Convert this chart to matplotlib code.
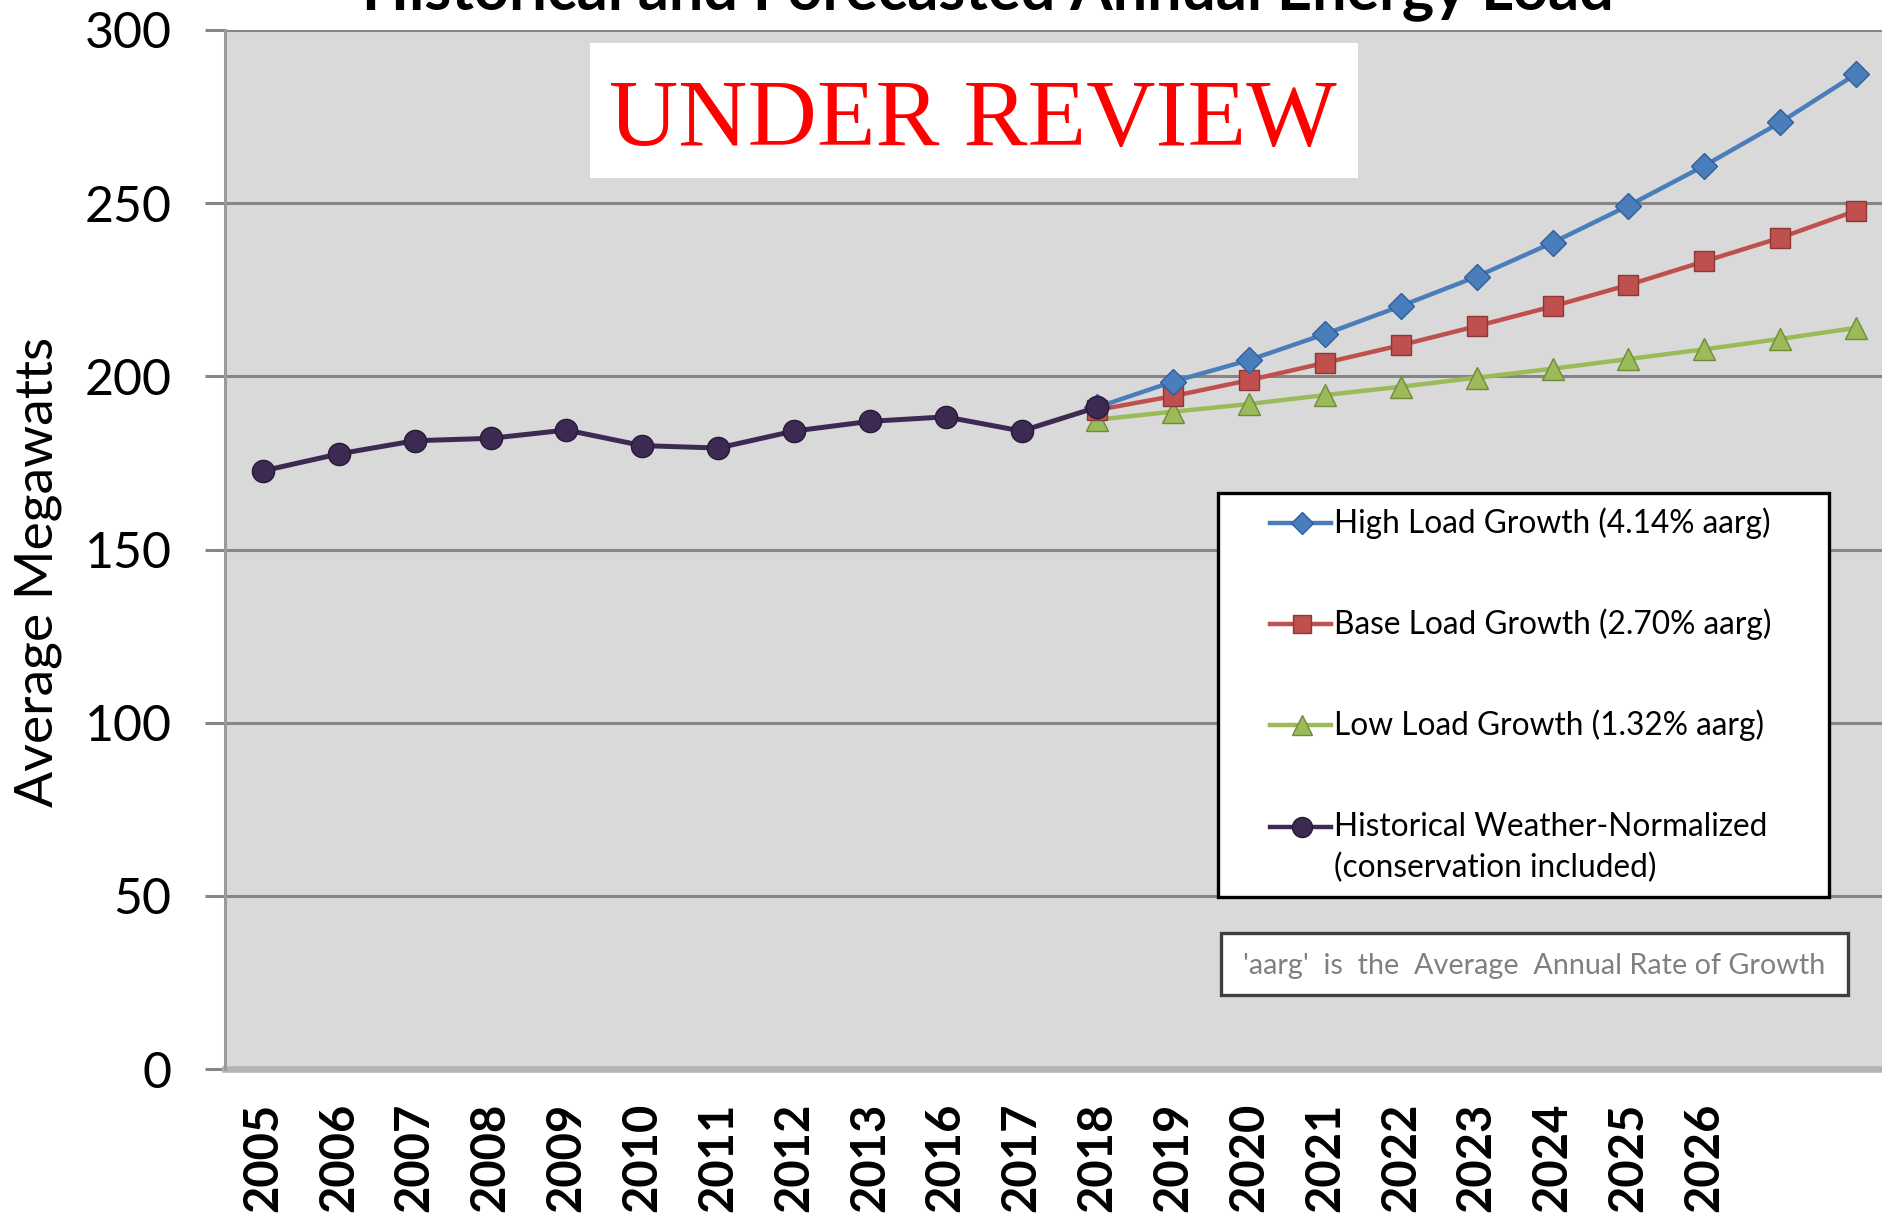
import numpy as np
import matplotlib
matplotlib.use("Agg")
import matplotlib.pyplot as plt
from matplotlib.patches import Rectangle
from matplotlib.lines import Line2D

# ---------------- data ----------------
year_labels = ['2005', '2006', '2007', '2008', '2009', '2010', '2011', '2012', '2013',
               '2016', '2017', '2018', '2019', '2020', '2021', '2022', '2023', '2024',
               '2025', '2026', '', '']
historical = [172.7, 177.6, 181.4, 182.1, 184.5, 180.0, 179.3, 184.2, 187.0, 188.3, 184.2, 191.1]
high_growth = [191.1, 198.5, 204.7, 212.2, 220.3, 228.8, 238.6, 249.3, 260.8, 273.3, 287.3]
base_growth = [190.3, 194.3, 198.9, 203.9, 209.0, 214.5, 220.2, 226.4, 233.2, 240.0, 247.8]
low_growth = [187.5, 189.8, 192.0, 194.6, 197.0, 199.6, 202.2, 205.0, 207.8, 210.8, 214.0]
forecast_start = 11  # index of 2018

legend_labels = ['High Load Growth (4.14% aarg)',
                 'Base Load Growth (2.70% aarg)',
                 'Low Load Growth (1.32% aarg)',
                 'Historical Weather-Normalized\n(conservation included)']
title_text = 'Historical and Forecasted Annual Energy Load'
stamp_text = 'UNDER REVIEW'
note_text = "'aarg'  is  the  Average  Annual Rate of Growth"
y_label = 'Average Megawatts'

# ---------------- style ----------------
W, H = 1883, 1226
DPI = 100
FONT = ['Lato', 'DejaVu Sans']
plt.rcParams['font.family'] = FONT

c_hist, c_hist_e = '#3c2a52', '#271a38'
c_high, c_high_e = '#4a7ebb', '#2f5f9e'
c_base, c_base_e = '#c0504d', '#8c3836'
c_low, c_low_e = '#9bbb59', '#6f8a3a'

fig = plt.figure(figsize=(W / DPI, H / DPI), dpi=DPI)
fig.patch.set_facecolor('white')

def fx(px):
    return px / W

def fy(py):
    return 1 - py / H

ax_left, ax_right, ax_top, ax_bot = 225, 1894, 30, 1069
ax = fig.add_axes([fx(ax_left), fy(ax_bot), (ax_right - ax_left) / W, (ax_bot - ax_top) / H])
ax.set_facecolor('#d9d9d9')

x = np.arange(len(year_labels))
xf = x[forecast_start:forecast_start + len(high_growth)]

ax.plot(xf, low_growth, color=c_low, lw=3.2, marker='^', ms=16, mfc=c_low, mec=c_low_e, mew=1.0, zorder=3)
ax.plot(xf, base_growth, color=c_base, lw=3.2, marker='s', ms=14, mfc=c_base, mec=c_base_e, mew=1.0, zorder=4)
ax.plot(xf, high_growth, color=c_high, lw=3.2, marker='D', ms=13, mfc=c_high, mec=c_high_e, mew=1.0, zorder=5)
ax.plot(x[:len(historical)], historical, color=c_hist, lw=3.6, marker='o', ms=16, mfc=c_hist, mec=c_hist_e,
        mew=1.0, zorder=6)

ax.set_xlim(-0.5, len(year_labels) - 0.5)
ax.set_ylim(0, 300)
ax.set_yticks(np.arange(0, 301, 50))
ax.set_xticks(x)
ax.set_xticklabels(year_labels, rotation=90, fontsize=34, fontweight='bold')
ax.tick_params(axis='x', length=0, pad=24)
ax.tick_params(axis='y', length=14.4, width=2.2, color='#868686', pad=24, labelsize=36, direction='out')

ax.yaxis.grid(True, color='#868686', lw=2.2, zorder=1)
ax.set_axisbelow(True)
for s in ['top', 'right']:
    ax.spines[s].set_visible(False)
ax.spines['left'].set_color('#9a9a9a')
ax.spines['left'].set_linewidth(2.2)
ax.spines['bottom'].set_color('#b5b5b5')
ax.spines['bottom'].set_linewidth(4.8)
ax.spines['bottom'].set_zorder(2)

# title (partly cut off at the top, as in the reference)
fig.text(fx(988), fy(9), title_text, ha='center', va='baseline', fontsize=44, fontweight='bold')

# y label
fig.text(fx(38.5), fy(572), y_label, rotation=90, ha='center', va='center', fontsize=38.5)

# stamp
fig.patches.append(Rectangle((fx(590), fy(178)), (1358 - 590) / W, (178 - 43) / H,
                             transform=fig.transFigure, facecolor='white', edgecolor='none', zorder=10))
fig.text(fx(973), fy(146), stamp_text, ha='center', va='baseline', fontsize=69, color='#ff0000',
         family=['Liberation Serif', 'DejaVu Serif'], zorder=11)

# legend box
fig.patches.append(Rectangle((fx(1218), fy(897)), (1829 - 1218) / W, (897 - 493) / H,
                             transform=fig.transFigure, facecolor='white', edgecolor='black', lw=2.4,
                             zorder=10))
leg_specs = [(c_high, c_high_e, 'D', 13, 523),
             (c_base, c_base_e, 's', 14, 624),
             (c_low, c_low_e, '^', 16, 725),
             (c_hist, c_hist_e, 'o', 16, 827)]
for (col, ecol, mk, ms, yy), lab in zip(leg_specs, legend_labels):
    fig.add_artist(Line2D([fx(1270), fx(1331)], [fy(yy), fy(yy)], transform=fig.transFigure,
                          color=col, lw=3.2, zorder=11))
    fig.add_artist(Line2D([fx(1302)], [fy(yy)], transform=fig.transFigure, color=col, marker=mk,
                          ms=ms * 0.9, mfc=col, mec=ecol, mew=1.0, zorder=12))
    lines = lab.split('\n')
    for i, ln in enumerate(lines):
        fig.text(fx(1334), fy(yy + i * 41), ln, ha='left', va='center', fontsize=22.8, color='#000000',
                 zorder=12)

# note box
fig.patches.append(Rectangle((fx(1221), fy(995)), (1848 - 1221) / W, (995 - 933) / H,
                             transform=fig.transFigure, facecolor='white', edgecolor='#3f3f3f', lw=2.4,
                             zorder=10))
fig.text(fx(1534), fy(966), note_text, ha='center', va='center', fontsize=20.7, color='#808080', zorder=11)

fig.savefig('out.png', dpi=DPI, facecolor='white')
